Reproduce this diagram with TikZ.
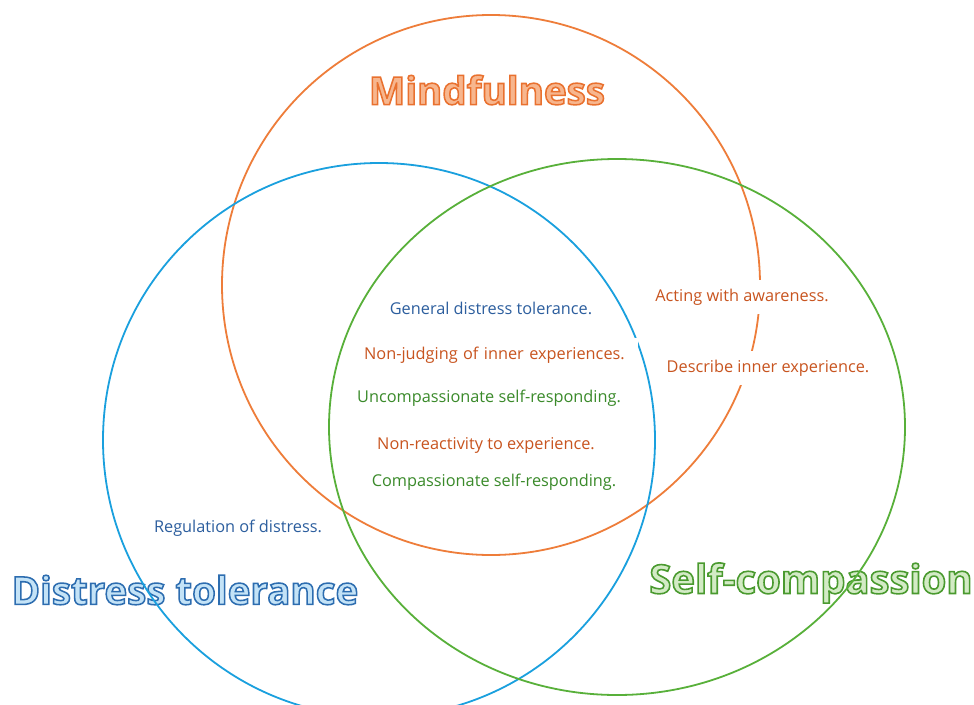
\documentclass[tikz,border=0pt]{standalone}
\usepackage{fontspec}
\setmainfont{Open Sans}
% heavy face drawn as fill + stroke (text render mode 2)
\newfontface\titlefont{Open Sans Bold}[FakeBold=4]
\definecolor{mindline}{HTML}{EE7D3A}
\definecolor{distline}{HTML}{1AA0DE}
\definecolor{selfline}{HTML}{58B03A}
\definecolor{mindtext}{HTML}{C8541F}
\definecolor{disttext}{HTML}{2C5E9E}
\definecolor{selftext}{HTML}{3A8A2A}
\definecolor{mindfill}{HTML}{F7B68E}
\definecolor{distfill}{HTML}{C4E3F7}
\definecolor{selffill}{HTML}{D3EBC5}
% stroke colour for the heading outlines
\newcommand{\edgecol}[1]{\special{pdf:code #1 RG}}
\begin{document}
\begin{tikzpicture}[x=1pt,y=-1pt,
  titlestyle/.style={font=\titlefont\fontsize{38.5}{42}\selectfont,inner sep=0pt},
  ring/.style={line width=1.8pt},
  itemlabel/.style={font=\fontsize{16.3}{18}\selectfont,fill=white,inner xsep=6pt,inner ysep=9pt}]
\useasboundingbox (0,0) rectangle (974,704);
\fill[white] (0,0) rectangle (974,704);
% headings sit beneath the rings
\node[titlestyle,text=mindfill] (mindtitle) at (487,90) {\edgecol{0.914 0.443 0.184}Mindfulness};
\node[titlestyle,text=distfill] (disttitle) at (185,590) {\edgecol{0.176 0.427 0.690}Distress tolerance};
\node[titlestyle,text=selffill,font=\titlefont\fontsize{40}{44}\selectfont] (selftitle) at (811,583) {\edgecol{0.290 0.604 0.184}Self-compassion};
% the three rings
\coordinate (mindc) at (491,285);
\coordinate (distc) at (379,440);
\coordinate (selfc) at (617,427);
\draw[ring,mindline] (mindc) ellipse[x radius=269pt,y radius=270pt];
\draw[ring,distline] (distc) ellipse[x radius=276pt,y radius=277pt];
\draw[ring,selfline] (selfc) ellipse[x radius=288pt,y radius=268pt];
% item labels
\node[itemlabel,text=disttext] (gen) at (491,308) {General distress tolerance.};
\node[itemlabel,text=mindtext,anchor=west,text width=268pt,align=left] (nonjudge) at (358,355) {Non-judging of inner experiences.};
\node[itemlabel,text=selftext] (uncomp) at (489,398) {Uncompassionate self-responding.};
\node[itemlabel,text=mindtext] (nonreact) at (486,445) {Non-reactivity to experience.};
\node[itemlabel,text=selftext] (comp) at (494,482) {Compassionate self-responding.};
\node[itemlabel,text=mindtext] (acting) at (742,297) {Acting with awareness.};
\node[itemlabel,text=mindtext] (describe) at (768,368) {Describe inner experience.};
\node[itemlabel,text=disttext] (regul) at (238,528) {Regulation of distress.};
\end{tikzpicture}
\end{document}
